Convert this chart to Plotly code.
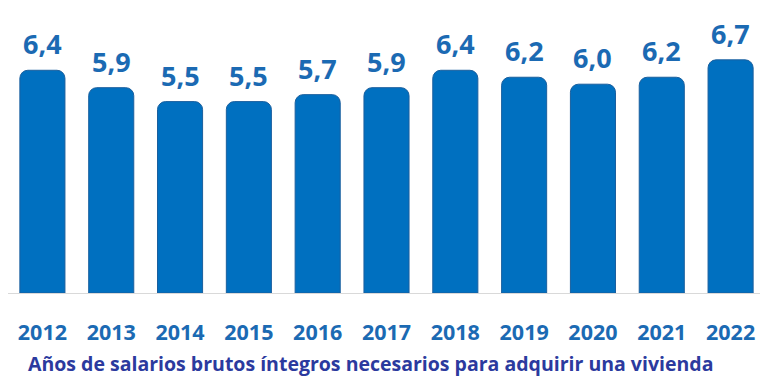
import plotly.graph_objects as go

years = ["2012", "2013", "2014", "2015", "2016", "2017", "2018", "2019", "2020", "2021", "2022"]
values = [6.4, 5.9, 5.5, 5.5, 5.7, 5.9, 6.4, 6.2, 6.0, 6.2, 6.7]
subtitle = "Años de salarios brutos íntegros necesarios para adquirir una vivienda"

labels = [f"{v:.1f}".replace(".", ",") for v in values]

BAR = "#0070C0"
LABEL = "#1B6AB3"
SUB = "#2B3A9E"

fig = go.Figure()
fig.add_trace(go.Bar(
    x=years, y=values,
    marker=dict(color=BAR, line=dict(color="#1A5F9E", width=1), cornerradius=8),
    hoverinfo="skip",
))

for i, (v, t) in enumerate(zip(values, labels)):
    fig.add_annotation(x=i, y=v, text=t, showarrow=False, xanchor="center",
                       yanchor="bottom", yshift=6,
                       font=dict(family="Open Sans", size=27, color=LABEL, weight="bold"))

fig.add_annotation(xref="paper", yref="paper", x=0.4795, y=-0.272, text=subtitle,
                   showarrow=False, xanchor="center", yanchor="middle",
                   font=dict(family="Open Sans", size=19.5, color=SUB, weight="bold"))

fig.update_layout(
    width=760, height=382,
    margin=dict(l=0, r=3, t=24, b=97, autoexpand=False),
    paper_bgcolor="white", plot_bgcolor="white",
    bargap=0.345,
    showlegend=False,
    xaxis=dict(type="category", showline=True, linecolor="#D9D9D9", linewidth=1, ticks="",
               tickfont=dict(family="Open Sans", size=21.5, color=LABEL, weight="bold"),
               ticklabelstandoff=20, showgrid=False, automargin=False),
    yaxis=dict(range=[0, 7.5], visible=False, showgrid=False, zeroline=False),
)

fig.write_html("out.html")
